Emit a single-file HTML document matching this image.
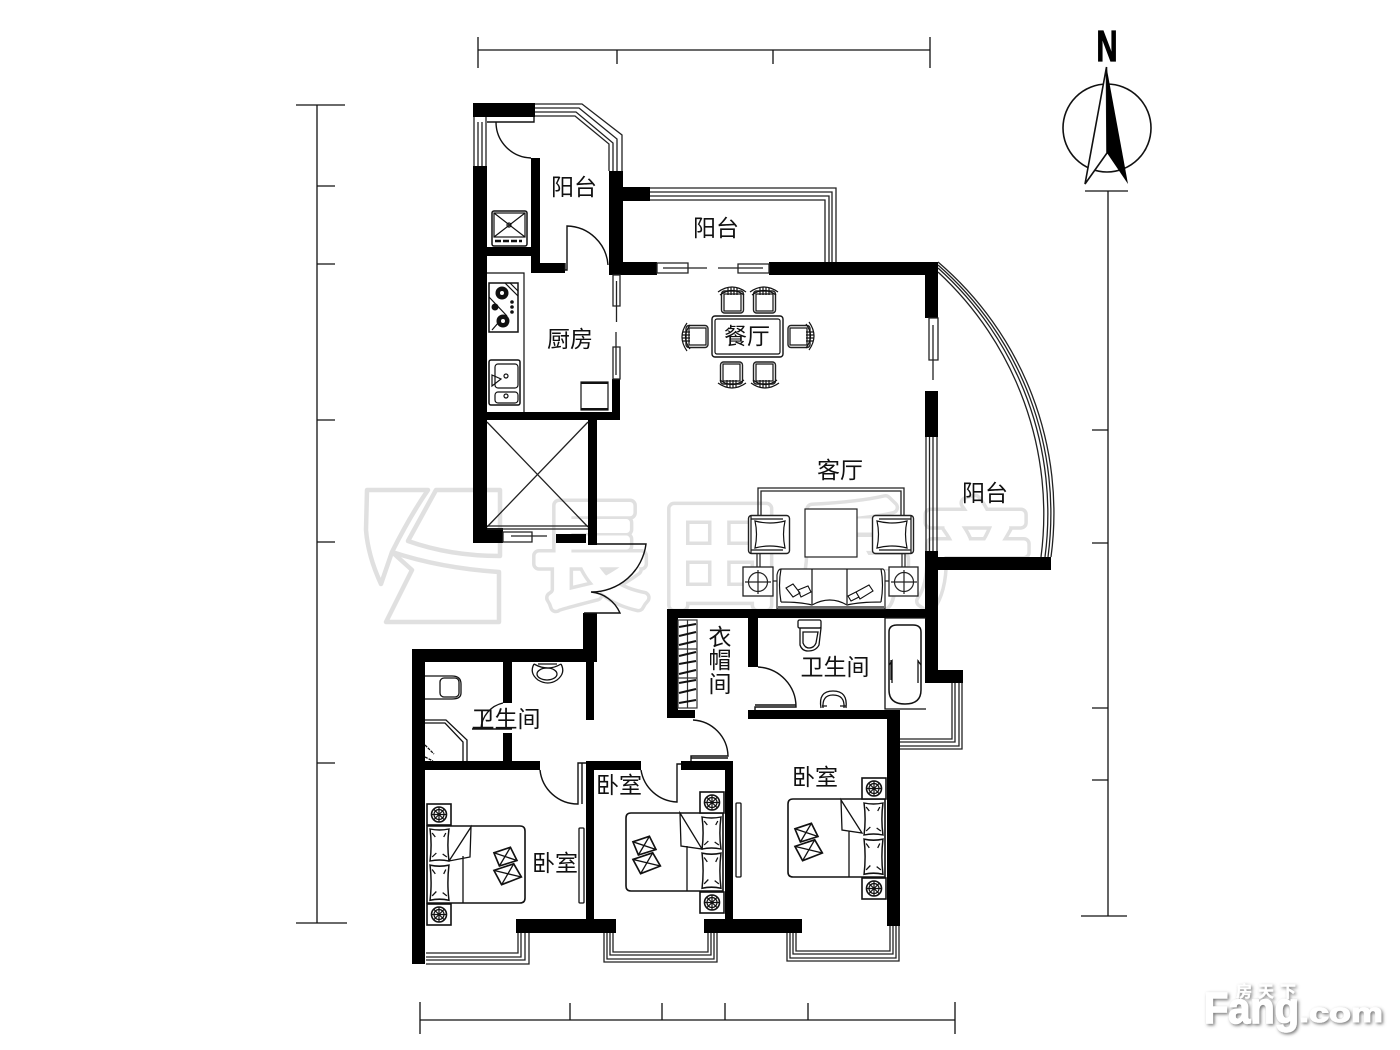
<!DOCTYPE html>
<html><head><meta charset="utf-8">
<style>
html,body{margin:0;padding:0;background:#fff;width:1400px;height:1050px;overflow:hidden}
svg{position:absolute;left:0;top:0}
.t{font-family:"Liberation Sans","Noto Sans CJK SC",sans-serif;font-size:23px;fill:#111;text-anchor:middle}
.wm{font-family:"Liberation Sans","Noto Sans CJK TC",sans-serif;font-size:114px;font-weight:400;text-anchor:middle}
.l{fill:none;stroke:#111;stroke-width:1.2}
.m{fill:none;stroke:#111;stroke-width:1.6}
.h{fill:#fff;stroke:#222;stroke-width:1.4}
</style></head><body>
<svg width="1400" height="1050" viewBox="0 0 1400 1050" xmlns="http://www.w3.org/2000/svg">
<defs>
<g id="chair">
  <rect x="1.5" y="4" width="22" height="22" rx="3" class="h"/>
  <rect x="4" y="7" width="17" height="17" class="l"/>
  <path d="M-2 5 Q12 -5 26 5" class="l"/>
  <path d="M0 8 Q12 -1 24 8" class="l"/>
  <path d="M8 1 V8 M11 0.5 V8 M14 0.5 V8 M17 1 V8" class="l"/>
</g>
<g id="stand">
  <rect x="0" y="0" width="24" height="21" fill="#fff" stroke="#111" stroke-width="1.6"/>
  <circle cx="12" cy="10.5" r="7.5" class="m"/>
  <circle cx="12" cy="10.5" r="5" class="l"/>
  <path d="M4.5 10.5H19.5M12 3V18M7 5.5L17 15.5M17 5.5L7 15.5" class="l"/>
</g>
<g id="cush">
  <path d="M-11 -12 L4 -17 L10 -5 L-6 0 Z M-11 4 L7 -2 L14 10 L-4 17 Z" fill="#fff" stroke="#111" stroke-width="1.5"/>
  <path d="M-11 -12 L10 -5 M4 -17 L-6 0 M-11 4 L14 10 M7 -2 L-4 17" class="l"/>
</g>
<g id="pillow">
  <path d="M1 1 Q10 3 19 1 Q17 17 19 33 Q10 31 1 33 Q3 17 1 1Z" fill="#fff" stroke="#111" stroke-width="1.4"/>
  <path d="M3 5L6 9M16 5L14 9M3 29L7 25M17 29L13 26" class="l"/>
</g>
<g id="armchair">
  <rect x="0.5" y="0.5" width="41" height="38" rx="3" class="h"/>
  <path d="M3 1 V38 M3 4 H35 M3 35 H35" class="l"/>
  <path d="M7 6 Q10 19 7 33 Q22 29 37 33 Q34 19 37 6 Q22 10 7 6Z" class="l"/>
</g>
</defs>

<!-- watermark -->
<g fill="none" stroke="#e0e0e0" stroke-width="4.5" stroke-linejoin="round">
  <path d="M367 490 H428 Q410 516 392 552 Q440 568 499 572 V622 H386 L412 570 L392 552 L381 584 Q368 556 366 530 Z"/>
  <path d="M436 490 H500 V556 Q450 556 408 541 Z"/>
</g>
<g class="wm">
  <g stroke="#e0e0e0" stroke-width="14" stroke-linejoin="round" fill="#e0e0e0">
    <text x="590" y="597">長</text><text x="720" y="597">田</text><text x="852" y="597">房</text><text x="975" y="597">产</text>
  </g>
  <g stroke="#fff" stroke-width="7" stroke-linejoin="round" fill="#fff">
    <text x="590" y="597">長</text><text x="720" y="597">田</text><text x="852" y="597">房</text><text x="975" y="597">产</text>
  </g>
</g>

<!-- dimension lines -->
<g fill="none" stroke="#111" stroke-width="1.3">
  <path d="M478 50H930 M478 37V68 M930 37V68 M617 50V64 M773 50V64"/>
  <path d="M317 105V923 M296 105H345 M296 923H347 M317 186H335 M317 264H335 M317 420H335 M317 542H335 M317 763H335"/>
  <path d="M1108 191V916 M1081 916H1127 M1092 430H1108 M1092 543H1108 M1092 708H1108 M1092 780H1108"/>
  <path d="M420 1020H955 M420 1002V1034 M955 1002V1034 M570 1003V1020 M662 1003V1020 M725 1003V1020 M808 1003V1020"/>
</g>

<!-- compass -->
<circle cx="1107" cy="128" r="44" fill="none" stroke="#111" stroke-width="1.6"/>
<path d="M1106.5 67 L1085 184 L1107 153 Z" fill="#fff" stroke="#111" stroke-width="1.6"/>
<path d="M1106.5 67 L1128 184 L1107 153 Z" fill="#000"/>
<path d="M1085 191H1128" stroke="#111" stroke-width="1.3"/>
<text x="1107" y="61" font-family="Liberation Sans,sans-serif" font-weight="700" font-size="44" text-anchor="middle" textLength="21" lengthAdjust="spacingAndGlyphs" fill="#000" stroke="#000" stroke-width="1.2">N</text>

<!-- thick walls -->
<g fill="#000">
  <rect x="473" y="103" width="62" height="14"/>
  <rect x="473" y="166" width="14" height="377"/>
  <rect x="531" y="158" width="9" height="115"/>
  <rect x="531" y="263" width="34" height="10"/>
  <rect x="487" y="247" width="44" height="9"/>
  <rect x="609" y="171" width="14" height="104"/>
  <rect x="623" y="187" width="27" height="14"/>
  <rect x="609" y="262" width="48" height="13"/>
  <rect x="769" y="262" width="169" height="13"/>
  <rect x="612" y="379" width="8" height="41"/>
  <rect x="487" y="412" width="133" height="8"/>
  <rect x="588" y="420" width="9" height="125"/>
  <rect x="473" y="528" width="30" height="15"/>
  <rect x="556" y="534" width="30" height="9"/>
  <rect x="925" y="262" width="13" height="56"/>
  <rect x="925" y="391" width="13" height="46"/>
  <rect x="925" y="551" width="13" height="132"/>
  <rect x="938" y="557" width="113" height="13"/>
  <rect x="925" y="670" width="38" height="13"/>
  <rect x="667" y="609" width="271" height="9"/>
  <rect x="667" y="609" width="11" height="109"/>
  <rect x="667" y="710" width="28" height="8"/>
  <rect x="748" y="618" width="10" height="49"/>
  <rect x="748" y="710" width="152" height="9"/>
  <rect x="887" y="710" width="13" height="216"/>
  <rect x="583" y="613" width="14" height="49"/>
  <rect x="412" y="649" width="185" height="13"/>
  <rect x="586" y="662" width="8" height="58"/>
  <rect x="412" y="649" width="13" height="315"/>
  <rect x="503" y="662" width="9" height="41"/>
  <rect x="503" y="733" width="9" height="29"/>
  <rect x="425" y="761" width="115" height="9"/>
  <rect x="586" y="761" width="55" height="9"/>
  <rect x="586" y="761" width="8" height="158"/>
  <rect x="681" y="761" width="52" height="9"/>
  <rect x="725" y="761" width="8" height="158"/>
  <rect x="516" y="919" width="100" height="14"/>
  <rect x="704" y="919" width="98" height="14"/>
</g>

<!-- windows -->
<g fill="none" stroke="#222" stroke-width="1.3">
  <path d="M474 117V166M478 122V166M482 122V166M486 117V166"/>
  <path d="M535 104H582L622 135V171M535 108H579L617 139V171M535 112H576L613 143V171M535 116H575L609 144V171"/>
  <path d="M650 188H836V262M650 192H832V262M650 196H829V262M650 200H825V262"/>
  <path d="M926 437V551M929.5 437V551M933 437V551M937 437V551"/>
  <path d="M938 262A330 330 0 0 1 1051 557M938 265A330 330 0 0 1 1048 557M938 268A330 330 0 0 1 1045 557M938 272A330 330 0 0 1 1041 557"/>
  <path d="M962 683V749H900M959 683V746H900M955 683V742H900M952 683V739H900"/>
  <path d="M426 964H529V933M426 960H525V933M426 957H521V933M426 953H518V933"/>
  <path d="M604 933V962H717V933M607 933V959H714V933M610 933V955H711V933M613 933V952H708V933"/>
  <path d="M787 933V961H899V926M790 933V958H896V926M793 933V954H893V926M796 933V951H890V926"/>
  <path d="M657 263H688V273H657Z M663 268H688M688 268H707M718 268H763M738 264H769V273H738Z"/>
  <path d="M613 275H620V306H613Z M616.5 281V322M616 332V375M613 347H620V379H613Z"/>
  <path d="M929 318H938V360H929Z M933 325V380"/>
  <path d="M503 532H532V542H503Z M511 536H547"/>
  <path d="M487 526H588M487 529H588"/>
  <path d="M487 422L588 527M588 422L487 527"/>
</g>

<!-- doors -->
<g fill="none" stroke="#111" stroke-width="1.4">
  <path d="M487 122H534V117M496 122A36 36 0 0 0 531 158"/>
  <path d="M565 270L565 263M565 270H567V226A42 42 0 0 1 608 265"/>
  <path d="M597 544H646A55 55 0 0 1 591 592A35 35 0 0 1 620 613H584"/>
  <path d="M758 667A40 40 0 0 1 796 707H755V710M755 705H796"/>
  <path d="M693 720A37 37 0 0 1 728 756H691V761M691 758H728"/>
  <path d="M540 770A38 38 0 0 0 578 804V763H586M582 763V804"/>
  <path d="M641 770A38 38 0 0 0 677 802V764H681"/>
  <path d="M503 703A28 28 0 0 0 481 729H472M472 729H512"/>
</g>

<!-- kitchen & balcony fittings -->
<g fill="none" stroke="#111" stroke-width="1.2">
  <rect x="492" y="211" width="35" height="35" rx="2" stroke-width="1.5"/>
  <rect x="494" y="213" width="31" height="24"/>
  <path d="M494 213L525 237M525 213L494 237"/>
  <circle cx="509" cy="225" r="2"/>
  <path d="M495 241H522" stroke-width="2.5" stroke-dasharray="6 2"/>
  <path d="M487 273H524V412"/>
  <rect x="489" y="283" width="29" height="49" stroke-width="1.5"/>
  <path d="M505 283L518 296M510 283L518 291M492 330L505 315M489 297L507 316"/>
  <rect x="489" y="360" width="31" height="45" rx="2" stroke-width="1.5"/>
  <rect x="495" y="364" width="23" height="24" rx="3"/>
  <rect x="495" y="392" width="23" height="11" rx="3"/>
  <path d="M492 375L501 379L492 386Z" />
  <circle cx="506" cy="376" r="2"/><circle cx="506" cy="396" r="2"/>
  <rect x="581" y="382" width="27" height="28" stroke-width="1.2"/>
  <path d="M581 383H608M581 409H608" stroke-width="2"/>
</g>
<g fill="#111">
  <circle cx="502" cy="293" r="6.5"/><circle cx="503" cy="321" r="6.5"/><circle cx="495" cy="307" r="3.5"/>
  <circle cx="512" cy="302" r="1.8"/><circle cx="512" cy="307" r="1.8"/><circle cx="512" cy="312" r="1.8"/>
</g>
<g fill="#fff"><circle cx="502" cy="293" r="2"/><circle cx="503" cy="321" r="2"/></g>

<!-- dining -->
<g>
  <use href="#chair" transform="translate(720,287)"/>
  <use href="#chair" transform="translate(752,287)"/>
  <use href="#chair" transform="translate(744,388) rotate(180)"/>
  <use href="#chair" transform="translate(777,388) rotate(180)"/>
  <use href="#chair" transform="translate(682,349) rotate(-90)"/>
  <use href="#chair" transform="translate(814,324) rotate(90)"/>
  <rect x="712" y="316" width="71" height="41" rx="3" fill="#fff" stroke="#111" stroke-width="1.4"/>
  <rect x="715" y="319" width="65" height="35" rx="2" class="l"/>
</g>

<!-- living -->
<g>
  <path d="M758 516V488H904V516M761 516V491H901V516" fill="none" stroke="#222" stroke-width="1.3"/>
  <path d="M757 553V567M760 553V567M902 553V567M905 553V567" stroke="#222" stroke-width="1.2"/>
  <use href="#armchair" transform="translate(748,515)"/>
  <use href="#armchair" transform="translate(914,515) scale(-1,1)"/>
  <rect x="805" y="509" width="52" height="48" fill="#fff" stroke="#222" stroke-width="1.2"/>
  <rect x="743" y="567" width="30" height="29" fill="#fff" stroke="#222" stroke-width="1.3"/>
  <rect x="889" y="567" width="29" height="29" fill="#fff" stroke="#222" stroke-width="1.3"/>
  <g fill="none" stroke="#222" stroke-width="1.2">
    <circle cx="758" cy="582" r="9.5"/><path d="M745 582H771M758 570V594"/>
    <circle cx="904" cy="582" r="9.5"/><path d="M891 582H917M904 570V594"/>
    <path d="M773 581H777M884 581H889"/>
  </g>
  <path d="M777 609V575Q778 569 781 569H883Q885 570 885 575V609Z" fill="#fff" stroke="#222" stroke-width="1.2"/>
  <path d="M781 569Q778 585 781 602M881 569Q884 585 881 602M812 569V604M847 569V604M781 602Q800 602 812 605Q830 595 847 605Q860 602 881 602M778 607H884" class="l"/>
  <path d="M786 588L793 584L800 593L793 597Z M798 590L808 586L811 592L801 597Z M848 596L856 592L859 597L851 601Z M856 592L869 585L873 591L860 599Z" fill="#fff" stroke="#111" stroke-width="1.1"/>
</g>

<!-- closet -->
<g fill="none" stroke="#333" stroke-width="1.2">
  <rect x="678" y="620" width="19" height="88"/>
  <path d="M678 649H697M678 678H697"/>
  <path d="M687.5 620V708" stroke-width="1.2"/>
</g>
<g stroke="#111" stroke-width="2">
  <path d="M679 627L696 624M679 636L696 632M679 645L696 641M679 656L696 652M679 664L696 661M679 674L696 670M679 683L696 680M679 693L696 689M679 703L696 700"/>
</g>

<!-- upper bath -->
<g fill="none" stroke="#111" stroke-width="1.3">
  <rect x="798" y="620" width="23" height="8" rx="1.5"/>
  <path d="M800 628V645Q802 651 808 651Q816 651 819 645L821 628Z"/>
  <path d="M803 632V643Q805 648 809 648Q814 648 816 643L818 632Z"/>
  <path d="M885 618V709H926M885 618H926"/>
  <path d="M889 632Q889 625 897 625H913Q921 625 921 632V690Q921 704 905 704Q889 704 889 690Z" stroke-width="1.5"/>
  <path d="M891 680V660M918 680V660M889 665L892 661L892 683M921 665L918 661L918 683"/>
  <path d="M821 708Q818 691 833 691Q848 691 846 708M823 708Q822 695 833 695Q845 695 844 708" />
  <path d="M822 706H827M840 706H846"/>
</g>

<!-- lower bath -->
<g fill="none" stroke="#111" stroke-width="1.3">
  <path d="M425 676H452Q461 676 461 684V693Q461 699 452 699H425"/>
  <rect x="440" y="678" width="19" height="19" rx="4"/>
  <path d="M425 720H446L467 740V761M425 723H445L463 742V761"/>
  <path d="M425 745L434 754M425 757L433 761" stroke-dasharray="3 1"/>
  <path d="M534 664Q529 673 538 680Q548 686 557 680Q566 673 561 664"/>
  <path d="M534 664Q548 672 561 664M538 664H557"/>
  <ellipse cx="547" cy="674" rx="10" ry="6"/>
</g>

<!-- beds -->
<g>
  <path d="M427 826H520Q525 826 525 831V898Q525 903 520 903H427Z" fill="#fff" stroke="#111" stroke-width="1.6"/>
  <use href="#pillow" transform="translate(429,828) scale(1.05,1)"/>
  <use href="#pillow" transform="translate(429,864) scale(1.05,1.1)"/>
  <use href="#stand" transform="translate(427,804)"/>
  <use href="#stand" transform="translate(427,904)"/>
  <path d="M463 856V903M449 861L471 827L470 857Z" fill="#fff" stroke="#111" stroke-width="1.3"/>
  <use href="#cush" transform="translate(506,866) scale(1.1)"/>
  <rect x="579" y="828" width="5" height="75" rx="1" fill="#fff" stroke="#111" stroke-width="1.3"/>

  <path d="M723 813H631Q626 813 626 818V886Q626 891 631 891H723Z" fill="#fff" stroke="#111" stroke-width="1.6"/>
  <use href="#pillow" transform="translate(701,816) scale(1.05,1)"/>
  <use href="#pillow" transform="translate(701,852) scale(1.05,1.1)"/>
  <use href="#stand" transform="translate(700,792)"/>
  <use href="#stand" transform="translate(700,892)"/>
  <path d="M687 846V891M680 813L702 849L681 846Z" fill="#fff" stroke="#111" stroke-width="1.3"/>
  <use href="#cush" transform="translate(645,855) scale(1.1)"/>
  <rect x="736" y="803" width="5" height="74" rx="1" fill="#fff" stroke="#111" stroke-width="1.3"/>

  <path d="M885 799H793Q788 799 788 804V872Q788 877 793 877H885Z" fill="#fff" stroke="#111" stroke-width="1.6"/>
  <use href="#pillow" transform="translate(863,802) scale(1.05,1)"/>
  <use href="#pillow" transform="translate(863,838) scale(1.05,1.1)"/>
  <use href="#stand" transform="translate(862,778)"/>
  <use href="#stand" transform="translate(862,878)"/>
  <path d="M849 831V877M841 800L862 833L842 830Z" fill="#fff" stroke="#111" stroke-width="1.3"/>
  <use href="#cush" transform="translate(807,842) scale(1.1)"/>
</g>

<!-- labels -->
<text class="t" x="574" y="195">阳台</text>
<text class="t" x="716" y="236">阳台</text>
<text class="t" x="985" y="501">阳台</text>
<text class="t" x="570" y="347">厨房</text>
<text class="t" x="747" y="344">餐厅</text>
<text class="t" x="840" y="478">客厅</text>
<text class="t" x="720" y="645">衣</text>
<text class="t" x="720" y="668">帽</text>
<text class="t" x="720" y="692">间</text>
<text class="t" x="835" y="675">卫生间</text>
<text class="t" x="506" y="727">卫生间</text>
<text class="t" x="619" y="793">卧室</text>
<text class="t" x="555" y="871">卧室</text>
<text class="t" x="815" y="785">卧室</text>

<!-- site mark -->
<defs><filter id="sh" x="-20%" y="-30%" width="140%" height="160%"><feDropShadow dx="1.5" dy="1.5" stdDeviation="1.6" flood-color="#555" flood-opacity=".8"/></filter></defs>
<g filter="url(#sh)" fill="#fff" stroke="#fff" font-family="Liberation Sans,Noto Sans CJK SC,sans-serif">
  <text x="1204" y="1023" font-size="44" font-weight="700" stroke-width="1.5" textLength="95" lengthAdjust="spacingAndGlyphs">Fang</text>
  <text x="1299" y="1022" font-size="27" font-weight="700" stroke-width="1" textLength="84" lengthAdjust="spacingAndGlyphs">.com</text>
  <text x="1236" y="997" font-size="16" font-weight="700" stroke-width=".3" textLength="60">房天下</text>
</g>
</svg>
</body></html>
